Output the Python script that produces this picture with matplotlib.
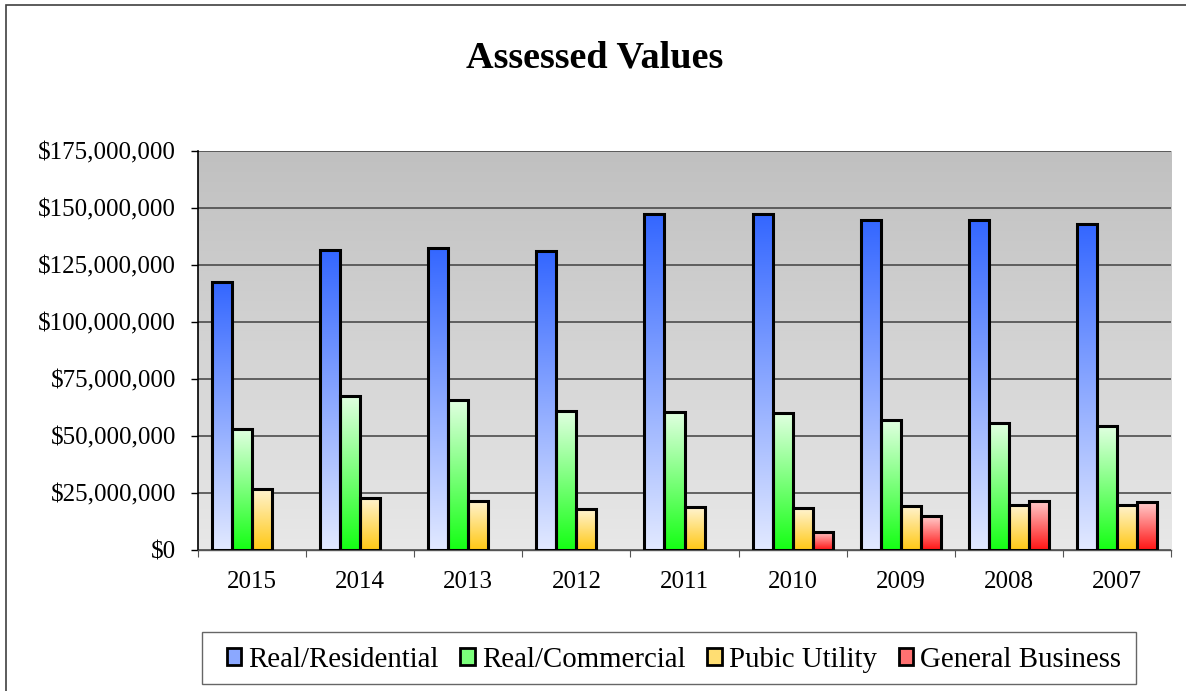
import matplotlib
matplotlib.use('Agg')
import matplotlib.pyplot as plt
import numpy as np
from matplotlib.patches import Patch, Rectangle
from matplotlib.ticker import FuncFormatter

plt.rcParams['font.family'] = ['Liberation Serif', 'DejaVu Serif']

# Data (dollars)
years = ['2015', '2014', '2013', '2012', '2011', '2010', '2009', '2008', '2007']
residential = [117.8e6, 131.8e6, 132.6e6, 131.4e6, 147.6e6, 147.6e6, 144.8e6, 144.8e6, 143.2e6]
commercial = [53.4e6, 67.8e6, 66.1e6, 61.2e6, 60.8e6, 60.3e6, 57.3e6, 55.9e6, 54.5e6]
utility = [27.0e6, 23.0e6, 21.7e6, 17.9e6, 18.8e6, 18.4e6, 19.3e6, 19.8e6, 19.8e6]
business = [0, 0, 0, 0, 0, 8.2e6, 14.9e6, 21.5e6, 21.0e6]
series_names = ['Real/Residential', 'Real/Commercial', 'Pubic Utility', 'General Business']

# gradient colours (top, bottom) per series
grads = [((51, 102, 255), (226, 233, 255)),
         ((226, 255, 226), (20, 255, 20)),
         ((255, 244, 210), (255, 200, 20)),
         ((255, 205, 205), (255, 20, 20))]


def vgrad(top, bottom, n=256):
    t = np.linspace(0, 1, n)[:, None]
    top = np.array(top) / 255.0
    bottom = np.array(bottom) / 255.0
    g = top[None, :] * (1 - t) + bottom[None, :] * t
    return g[:, None, :]


fig = plt.figure(figsize=(11.86, 6.91), dpi=100)
ax = fig.add_axes([198 / 1186, 1 - 550.3 / 691, 973 / 1186, 399 / 691])

ymax = 175e6
x = np.arange(len(years))
w = 0.185

# plot area background
ax.set_facecolor('none')
ax.imshow(vgrad((192, 192, 192), (232, 232, 232)), extent=[-0.5, 8.5, 0, ymax],
          aspect='auto', zorder=0, interpolation='bilinear')

data = [residential, commercial, utility, business]
for i, vals in enumerate(data):
    img = vgrad(*grads[i])
    vals = np.array(vals)
    keep = vals > 0
    for xi, v in zip(x[keep], vals[keep]):
        x0 = xi + (i - 2) * w
        ax.imshow(img, extent=[x0, x0 + w, 0, v], aspect='auto', zorder=2,
                  interpolation='bilinear')
    ax.bar(x[keep] + (i - 1.5) * w, vals[keep], width=w, facecolor='none',
           edgecolor='black', linewidth=2.2, zorder=3)

ax.set_xlim(-0.5, 8.5)
ax.set_ylim(0, ymax)
ax.set_yticks(np.arange(0, ymax + 1, 25e6))
ax.yaxis.set_major_formatter(FuncFormatter(lambda v, p: '${:,.0f}'.format(v)))
ax.grid(axis='y', color='#404040', linewidth=1.1)
ax.set_axisbelow(True)

ax.set_xticks(np.arange(-0.5, 9, 1))
ax.set_xticklabels([])
ax.set_xticks(x, minor=True)
ax.set_xticklabels(years, minor=True)
ax.tick_params(axis='x', which='major', length=5, width=0.8, color='#555555', direction='out')
ax.tick_params(axis='x', which='minor', length=0, pad=15, labelsize=18)
ax.tick_params(axis='y', length=5, width=1.0, pad=11, labelsize=18)

for s in ['top', 'right']:
    ax.spines[s].set_visible(False)
ax.spines['left'].set_linewidth(1.2)
ax.spines['bottom'].set_linewidth(1.0)
ax.spines['bottom'].set_color('#555555')

fig.text(595 / 1186, 1 - 58 / 691, 'Assessed Values', ha='center', va='center',
         fontsize=27.5, fontweight='bold')

# outer chart border
fig.patches.append(Rectangle((6 / 1186, -0.1), 1.2, 1.1 - 5 / 691, transform=fig.transFigure,
                             fill=False, edgecolor='#404040', linewidth=1.2))

# legend frame drawn by hand so the side padding matches
fig.patches.append(Rectangle((202 / 1186, 1 - 684 / 691), 934 / 1186, 52 / 691,
                             transform=fig.transFigure, facecolor='white',
                             edgecolor='#666666', linewidth=1.0))

handles = [Patch(facecolor=tuple(np.array(grads[i][0]) * 0.5 / 255 + np.array(grads[i][1]) * 0.5 / 255),
                 edgecolor='black', linewidth=2) for i in range(4)]
leg = fig.legend(handles, series_names, loc='center', ncol=4,
                 bbox_to_anchor=(674 / 1186, 1 - 660 / 691), fontsize=20.8,
                 frameon=False, handlelength=0.5, handleheight=0.55,
                 handletextpad=0.25, columnspacing=0.75, borderpad=0.0)

fig.savefig('out.png', dpi=100)
